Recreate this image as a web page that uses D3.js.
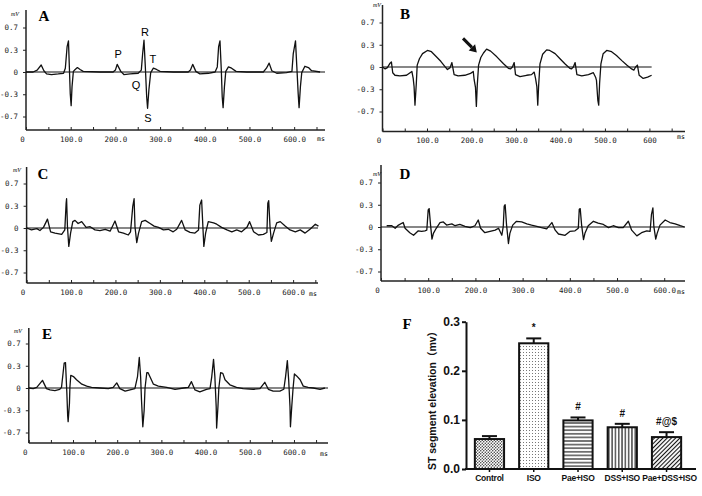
<!DOCTYPE html>
<html><head><meta charset="utf-8">
<script src="https://cdn.jsdelivr.net/npm/d3@7"></script>
<style>body{margin:0;background:#fff} svg{display:block}</style>
</head><body>
<svg id="chart" width="702" height="496"></svg>
<script>
// ---------- DATA ----------
// ECG traces: [time (ms), amplitude (mV)]
const ecgA = [[0,0],[16,0],[25,0.03],[34,0.11],[40,0.02],[46,-0.03],[57,-0.04],[72,-0.03],[84,-0.02],[88,0.06],[92,0.4],[95,0.49],[97,0.08],[99,-0.34],[101,-0.53],[103,-0.23],[106,0.01],[110,0.04],[115,0.07],[121,0.04],[128,0.01],[166,0],[195,0],[200,0.03],[204,0.12],[212,0.01],[219,-0.04],[233,-0.03],[251,-0.02],[258,0.03],[261,0.29],[264,0.5],[267,0.08],[270,-0.39],[272,-0.57],[275,-0.28],[279,-0.01],[285,0.06],[292,0.04],[300,0.01],[330,0],[363,0],[368,0.03],[373,0.12],[380,0.01],[389,-0.03],[408,-0.02],[423,0],[428,0.08],[431,0.4],[434,0.49],[437,0.03],[439,-0.39],[441,-0.56],[444,-0.23],[447,0.01],[453,0.08],[460,0.06],[470,0.01],[494,0],[531,0],[538,0.06],[544,0.14],[550,0.02],[561,-0.02],[583,-0.01],[595,0.01],[598,0.29],[603,0.49],[606,0.08],[609,-0.34],[611,-0.56],[614,-0.23],[617,-0.01],[624,0.09],[632,0.07],[639,0.02],[658,0]];
const ecgB = [[0,0],[6,-0.03],[11,-0.01],[17,0.06],[20,0.08],[23,-0.09],[28,-0.13],[39,-0.14],[54,-0.13],[62,-0.09],[66,-0.07],[69,-0.18],[71,-0.31],[73,-0.6],[76,-0.26],[78,0.03],[83,0.13],[90,0.21],[101,0.26],[110,0.24],[120,0.17],[131,0.09],[140,0.01],[146,-0.04],[152,-0.01],[156,0.07],[161,-0.12],[170,-0.14],[185,-0.13],[198,-0.1],[204,-0.07],[206,-0.2],[209,-0.32],[211,-0.62],[213,-0.29],[216,0.03],[221,0.15],[227,0.22],[234,0.28],[243,0.25],[257,0.16],[272,0.05],[283,-0.02],[288,-0.03],[292,0],[296,0.07],[299,-0.12],[309,-0.15],[324,-0.13],[335,-0.12],[341,-0.08],[344,-0.18],[347,-0.31],[349,-0.6],[351,-0.29],[354,0.05],[360,0.2],[369,0.27],[376,0.26],[388,0.21],[399,0.13],[410,0.05],[421,-0.02],[425,-0.03],[429,0],[433,0.07],[437,-0.12],[448,-0.14],[463,-0.12],[474,-0.09],[479,-0.16],[481,-0.21],[484,-0.52],[486,-0.6],[488,-0.26],[491,0.05],[496,0.21],[504,0.26],[515,0.24],[526,0.18],[538,0.1],[549,0.03],[560,-0.03],[565,-0.05],[569,0],[573,0.03],[577,-0.13],[586,-0.18],[596,-0.16],[605,-0.13]];
const ecgC = [[0,0],[11,-0.03],[23,-0.01],[30,-0.04],[38,0.01],[47,0.14],[54,-0.06],[64,-0.08],[79,-0.1],[86,-0.03],[89,0.39],[90,0.46],[92,0.02],[95,-0.29],[99,-0.08],[104,0.1],[109,0.12],[116,0.07],[124,0.1],[134,0.01],[143,0.02],[154,-0.03],[165,-0.04],[177,-0.02],[188,-0.05],[199,0.11],[207,-0.06],[218,-0.08],[229,-0.11],[234,-0.06],[239,0.34],[242,0.46],[244,0.02],[248,-0.23],[252,-0.08],[259,0.1],[267,0.12],[278,0.07],[287,0.03],[297,0.01],[308,-0.03],[319,-0.02],[330,-0.06],[338,-0.02],[349,0.12],[357,-0.03],[368,-0.07],[379,-0.08],[387,-0.03],[390,0.36],[394,0.44],[397,0.0],[399,-0.29],[403,-0.08],[409,0.1],[421,0.08],[428,0.06],[439,0.01],[451,-0.03],[462,-0.06],[473,-0.03],[484,-0.06],[496,0.01],[502,0.1],[511,-0.06],[522,-0.11],[533,-0.1],[541,-0.07],[543,0.39],[545,0.43],[548,0.02],[551,-0.21],[556,-0.08],[563,0.08],[571,0.1],[582,0.03],[593,-0.03],[605,-0.06],[616,-0.03],[627,-0.08],[638,-0.02],[650,0.06],[657,0.03]];
const ecgD = [[12,0.02],[23,0.02],[30,-0.02],[37,0.03],[47,0.07],[51,-0.02],[61,-0.09],[69,-0.13],[79,-0.06],[86,-0.07],[93,-0.06],[97,-0.05],[100,0.27],[102,0.29],[105,0.03],[108,-0.19],[111,-0.1],[117,-0.02],[125,0.07],[132,0.08],[139,0.03],[150,0.05],[157,0.02],[167,0.04],[178,0.01],[189,-0.01],[199,0.02],[206,0.11],[211,-0.02],[220,-0.09],[231,-0.07],[242,-0.05],[249,-0.02],[256,-0.13],[259,0.01],[261,0.33],[263,0.35],[266,0.03],[270,-0.26],[273,-0.1],[279,0.03],[287,0.09],[298,0.08],[309,0.05],[319,0.03],[330,0.01],[340,-0.01],[351,-0.03],[362,0.07],[369,-0.05],[376,-0.11],[390,-0.13],[400,-0.07],[411,-0.06],[418,-0.02],[420,0.28],[422,0.29],[425,0.03],[429,-0.2],[432,-0.1],[439,0.02],[450,0.09],[460,0.06],[471,0.04],[482,-0.01],[492,0.02],[503,-0.01],[513,-0.01],[524,0.09],[531,-0.05],[542,-0.14],[552,-0.09],[563,-0.06],[570,-0.07],[573,0.2],[576,0.3],[578,0.01],[582,-0.19],[585,-0.1],[591,0.03],[602,0.11],[612,0.07],[623,0.05],[634,0.02],[643,0.0]];
const ecgE = [[0,0],[10,-0.01],[18,0.01],[31,0.12],[40,-0.01],[48,-0.03],[59,-0.04],[70,-0.02],[74,0.01],[80,0.39],[83,0.4],[86,-0.06],[88,-0.44],[89,-0.53],[92,-0.24],[93,0.01],[95,0.2],[101,0.18],[108,0.13],[120,0.06],[131,0.03],[142,0.01],[161,0],[180,-0.01],[191,0.01],[199,0.08],[206,-0.01],[218,-0.05],[229,-0.03],[240,-0.01],[246,0.18],[250,0.48],[253,0.18],[255,-0.19],[258,-0.61],[261,-0.35],[263,0],[267,0.24],[270,0.24],[276,0.15],[282,0.06],[293,0.03],[312,0.01],[331,-0.02],[350,0],[361,0.01],[368,0.1],[376,-0.03],[387,-0.06],[402,-0.02],[410,-0.01],[414,0.18],[418,0.45],[421,0.18],[424,-0.29],[425,-0.63],[428,-0.29],[430,0],[434,0.24],[439,0.23],[444,0.13],[455,0.05],[470,0.01],[485,-0.01],[508,-0.02],[523,-0.01],[534,0.09],[542,-0.02],[553,-0.05],[568,-0.05],[577,-0.02],[581,0.18],[585,0.43],[588,0.13],[591,-0.29],[592,-0.61],[595,-0.29],[598,0],[601,0.22],[606,0.19],[614,0.13],[621,0.03],[632,0.01],[644,0],[659,-0.02],[670,0]];

// axis ticks for ECG panels
const yTickValues = [0.7, 0.35, 0, -0.35, -0.7];
const yTickLabels = ["0.7", "0.3", "0", "-0.3", "-0.7"];
const xTickLabelsStd = ["0", "100.0", "200.0", "300.0", "400.0", "500.0", "600.0"];
const xTickLabelsB = ["0", "100.0", "200.0", "300.0", "400.0", "500.0", "600"];

// wave annotations on panel A
const waveNames = ["P", "Q", "R", "S", "T"];
const waveMs = [206, 246, 266, 273, 284];
const waveMv = [0.28, -0.2, 0.63, -0.72, 0.2];

// arrow on panel B: [ms, mV] tail and tip
const arrowTail = [181, 0.45];
const arrowTip = [212, 0.23];

// Panel F: ST segment elevation
const groups = ["Control", "ISO", "Pae+ISO", "DSS+ISO", "Pae+DSS+ISO"];
const stMeans = [0.061, 0.256, 0.099, 0.085, 0.065];
const stSem = [0.006, 0.010, 0.006, 0.007, 0.010];
const sigMarks = ["", "*", "#", "#", "#@$"];
const stTicks = [0, 0.1, 0.2, 0.3];
const stTickLabels = ["0.0", "0.1", "0.2", "0.3"];

// ---------- LAYOUT ----------
const panels = [
  {letter:"A", data:ecgA, x0:26, x1:325, xMax:669, yZero:72, yTop:10, yBot:130, zeroEnd:669, labels:xTickLabelsStd, lpos:[44,21], mv:[15,16], ms:[321,141]},
  {letter:"B", data:ecgB, x0:382.5, x1:685, xMax:680, yZero:67, yTop:5, yBot:131.5, zeroEnd:605, labels:xTickLabelsB, lpos:[405,19], mv:[377,7], ms:[681,139]},
  {letter:"C", data:ecgC, x0:26.6, x1:318, xMax:656, yZero:228, yTop:167, yBot:283, zeroEnd:656, labels:xTickLabelsStd, lpos:[43,179], mv:[17,172], ms:[313,296]},
  {letter:"D", data:ecgD, x0:381, x1:685, xMax:644, yZero:227, yTop:165, yBot:281, zeroEnd:644, labels:xTickLabelsStd, lpos:[405,179], mv:[377,176], ms:[681,294]},
  {letter:"E", data:ecgE, x0:28.8, x1:328, xMax:677, yZero:388, yTop:328, yBot:443, zeroEnd:677, labels:xTickLabelsStd, lpos:[47,339], mv:[18,333], ms:[324,456]}
];

const svg = d3.select("#chart");
svg.append("rect").attr("width",702).attr("height",496).attr("fill","#fff");
const monoFont = "'DejaVu Sans Mono', 'Liberation Mono', monospace";
const serifFont = "'Liberation Serif', 'DejaVu Serif', serif";
const sansFont = "'Liberation Sans', Arial, 'Noto Sans CJK SC', sans-serif";

panels.forEach(p => {
  const g = svg.append("g");
  const x = d3.scaleLinear([0, p.xMax], [p.x0, p.x1]);
  const y = d3.scaleLinear([-0.7, 0.7], [p.yZero + 44.5, p.yZero - 44.5]);

  // y axis
  const ya = g.append("g").attr("transform", `translate(${p.x0},0)`)
    .call(d3.axisLeft(y).tickValues(yTickValues).tickFormat((d,i)=>yTickLabels[i]).tickSize(3).tickPadding(5));
  ya.select(".domain").remove();
  ya.selectAll("text").attr("font-family", monoFont).attr("font-size", 7.5).attr("fill","#222");
  ya.selectAll("line").attr("stroke","#222");
  g.append("line").attr("x1",p.x0).attr("x2",p.x0).attr("y1",p.yTop).attr("y2",p.yBot).attr("stroke","#222").attr("stroke-width",1.5);

  // x axis
  const xt = d3.range(0, p.xMax + 1, 50);
  const xa = g.append("g").attr("transform", `translate(0,${p.yBot})`)
    .call(d3.axisBottom(x).tickValues(xt).tickFormat(d => d % 100 === 0 ? p.labels[d/100] : "").tickSize(-3).tickPadding(6.5));
  xa.select(".domain").remove();
  xa.selectAll("line").attr("stroke","#222");
  xa.selectAll("text").attr("font-family", monoFont).attr("font-size", 7.5).attr("fill","#222")
    .attr("dx", d => d === 0 ? -4 : 0);
  g.append("line").attr("x1",p.x0).attr("x2",p.x1).attr("y1",p.yBot).attr("y2",p.yBot).attr("stroke","#222").attr("stroke-width",1.5);

  // zero reference line
  g.append("line").attr("x1",x(0)).attr("x2",x(p.zeroEnd)).attr("y1",y(0)).attr("y2",y(0)).attr("stroke","#111").attr("stroke-width",1.1);

  // trace
  g.append("path").datum(p.data)
    .attr("d", d3.line().x(d=>x(d[0])).y(d=>y(d[1])))
    .attr("fill","none").attr("stroke","#111").attr("stroke-width",1.3).attr("stroke-linejoin","round");

  // labels
  g.append("text").attr("x",p.lpos[0]).attr("y",p.lpos[1]).attr("text-anchor","middle")
    .attr("font-family",serifFont).attr("font-weight","bold").attr("font-size",15).text(p.letter);
  g.append("text").attr("x",p.mv[0]).attr("y",p.mv[1]).attr("text-anchor","middle")
    .attr("font-family",serifFont).attr("font-style","italic").attr("font-size",6).text("mV");
  g.append("text").attr("x",p.ms[0]).attr("y",p.ms[1]).attr("text-anchor","middle")
    .attr("font-family",monoFont).attr("font-size",6.5).text("ms");

  p.x = x; p.y = y; p.g = g;
});

// wave labels on A
const pA = panels[0];
waveNames.forEach((n,i) => {
  pA.g.append("text").attr("x", pA.x(waveMs[i])).attr("y", pA.y(waveMv[i])).attr("dy","0.36em")
    .attr("text-anchor","middle").attr("font-family",sansFont).attr("font-size",11).attr("fill","#000").text(n);
});

// arrow on B
const pB = panels[1];
{
  const tx = pB.x(arrowTail[0]), ty = pB.y(arrowTail[1]);
  const hx = pB.x(arrowTip[0]), hy = pB.y(arrowTip[1]);
  const ang = Math.atan2(hy - ty, hx - tx);
  const hl = 7, hw = 4.5;
  const bx = hx - hl*Math.cos(ang), by = hy - hl*Math.sin(ang);
  pB.g.append("line").attr("x1",tx).attr("y1",ty).attr("x2",bx).attr("y2",by).attr("stroke","#111").attr("stroke-width",3);
  pB.g.append("path").attr("d", `M${hx},${hy}L${bx + hw*Math.sin(ang)},${by - hw*Math.cos(ang)}L${bx - hw*Math.sin(ang)},${by + hw*Math.cos(ang)}Z`).attr("fill","#111");
}

// ---------- PANEL F ----------
const defs = svg.append("defs");
const pc = defs.append("pattern").attr("id","patControl").attr("patternUnits","userSpaceOnUse").attr("width",3).attr("height",3);
pc.append("rect").attr("width",3).attr("height",3).attr("fill","#fff");
pc.append("circle").attr("cx",0.75).attr("cy",0.75).attr("r",0.75).attr("fill","#333");
pc.append("circle").attr("cx",2.25).attr("cy",2.25).attr("r",0.75).attr("fill","#333");
const pi = defs.append("pattern").attr("id","patISO").attr("patternUnits","userSpaceOnUse").attr("width",3).attr("height",3);
pi.append("rect").attr("width",3).attr("height",3).attr("fill","#fff");
pi.append("rect").attr("x",1).attr("y",1).attr("width",1).attr("height",1).attr("fill","#777");
const ph = defs.append("pattern").attr("id","patH").attr("patternUnits","userSpaceOnUse").attr("width",4).attr("height",3.6);
ph.append("rect").attr("width",4).attr("height",3.6).attr("fill","#fff");
ph.append("line").attr("x1",0).attr("x2",4).attr("y1",1.8).attr("y2",1.8).attr("stroke","#111").attr("stroke-width",1.1);
const pv = defs.append("pattern").attr("id","patV").attr("patternUnits","userSpaceOnUse").attr("width",3.3).attr("height",4);
pv.append("rect").attr("width",3.3).attr("height",4).attr("fill","#fff");
pv.append("line").attr("y1",0).attr("y2",4).attr("x1",1.65).attr("x2",1.65).attr("stroke","#111").attr("stroke-width",1.1);
const pd = defs.append("pattern").attr("id","patD").attr("patternUnits","userSpaceOnUse").attr("width",3).attr("height",3).attr("patternTransform","rotate(45)");
pd.append("rect").attr("width",3).attr("height",3).attr("fill","#fff");
pd.append("line").attr("y1",0).attr("y2",3).attr("x1",1.5).attr("x2",1.5).attr("stroke","#111").attr("stroke-width",1.1);
const fills = ["url(#patControl)","url(#patISO)","url(#patH)","url(#patV)","url(#patD)"];

const gF = svg.append("g");
const xb = d3.scaleBand(groups, [466, 690]).paddingInner(0.34).paddingOuter(0.2);
const yb = d3.scaleLinear([0, 0.3], [469, 321.7]);

gF.selectAll("rect.bar").data(groups).join("rect").attr("class","bar")
  .attr("x", d => xb(d)).attr("width", xb.bandwidth())
  .attr("y", (d,i) => yb(stMeans[i])).attr("height", (d,i) => yb(0) - yb(stMeans[i]))
  .attr("fill", (d,i) => fills[i]).attr("stroke","#111").attr("stroke-width",2);

groups.forEach((d,i) => {
  const cx = xb(d) + xb.bandwidth()/2;
  const top = yb(stMeans[i] + stSem[i]);
  gF.append("line").attr("x1",cx).attr("x2",cx).attr("y1",yb(stMeans[i])).attr("y2",top).attr("stroke","#111").attr("stroke-width",2);
  gF.append("line").attr("x1",cx-7.5).attr("x2",cx+7.5).attr("y1",top).attr("y2",top).attr("stroke","#111").attr("stroke-width",2);
  if (sigMarks[i]) gF.append("text").attr("x",cx).attr("y",top - 7).attr("text-anchor","middle")
    .attr("font-family",sansFont).attr("font-weight","bold").attr("font-size",10).attr("fill","#111").text(sigMarks[i]);
});

const yaF = gF.append("g").attr("transform","translate(466,0)")
  .call(d3.axisLeft(yb).tickValues(stTicks).tickFormat((d,i)=>stTickLabels[i]).tickSize(4).tickSizeOuter(0).tickPadding(2));
yaF.select(".domain").attr("stroke","#111").attr("stroke-width",2);
yaF.selectAll("line").attr("stroke","#111").attr("stroke-width",2);
yaF.selectAll("text").attr("font-family",sansFont).attr("font-weight","bold").attr("font-size",12).attr("fill","#111");

const xaF = gF.append("g").attr("transform","translate(0,469)")
  .call(d3.axisBottom(xb).tickSize(3).tickSizeOuter(0).tickPadding(3));
xaF.select(".domain").remove();
xaF.selectAll("line").attr("stroke","#111").attr("stroke-width",1.5);
xaF.selectAll("text").attr("font-family",sansFont).attr("font-weight","bold").attr("font-size",8.5)
  .attr("letter-spacing",-0.25).attr("fill","#111")
  .attr("dx", d => d === "Pae+DSS+ISO" ? 3 : 0);
gF.append("line").attr("x1",465).attr("x2",696).attr("y1",469).attr("y2",469).attr("stroke","#111").attr("stroke-width",2);

gF.append("text").attr("transform","translate(436,398) rotate(-90)").attr("text-anchor","middle")
  .attr("font-family",sansFont).attr("font-weight","bold").attr("font-size",10.5).attr("fill","#111")
  .text("ST segment elevation（mv）");
gF.append("text").attr("x",407).attr("y",329).attr("text-anchor","middle")
  .attr("font-family",serifFont).attr("font-weight","bold").attr("font-size",15).text("F");
</script>
</body></html>
